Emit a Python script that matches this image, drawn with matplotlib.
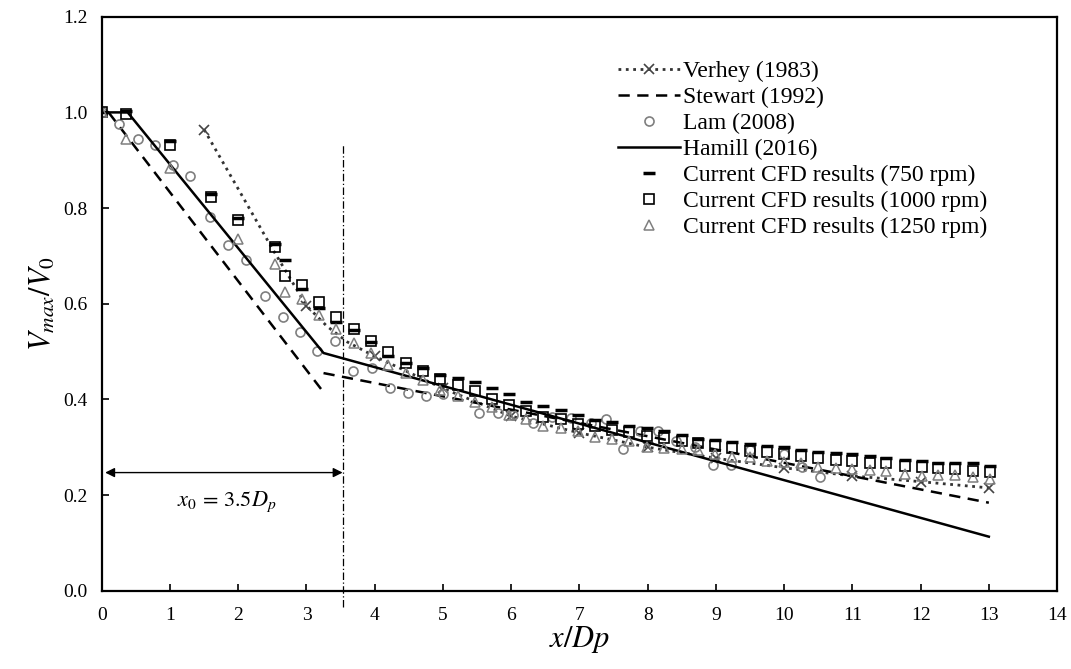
import matplotlib
matplotlib.use('Agg')
import matplotlib.pyplot as plt
import numpy as np

plt.rcParams['font.family'] = ['Liberation Serif', 'DejaVu Serif']
plt.rcParams['mathtext.fontset'] = 'stix'

# Verhey (1983) curve
verhey_x = [1.5, 2.0, 2.5, 3.0, 3.3, 3.6, 4.0, 5.0, 6.0, 7.0, 8.0, 9.0, 10.0, 11.0, 12.0, 13.0]
verhey_y = [0.964, 0.84, 0.715, 0.596, 0.553, 0.52, 0.49, 0.423, 0.365, 0.33, 0.30, 0.277, 0.257, 0.24, 0.228, 0.215]
verhey_marks = [0, 3, 6, 7, 8, 9, 10, 11, 12, 13, 14, 15]

# Stewart (1992): two segments
stewart_x1 = [0.1, 3.25]
stewart_y1 = [1.0, 0.415]
stewart_x2 = [3.25, 13.0]
stewart_y2 = [0.455, 0.184]

# Hamill (2016)
hamill_x = [0.0, 0.38, 3.25, 13.0]
hamill_y = [1.0, 1.0, 0.497, 0.113]

# Lam (2008) measurements
lam_x = [0.0, 0.25, 0.53, 0.78, 1.04, 1.3, 1.58, 1.85, 2.11, 2.39, 2.65, 2.9, 3.16, 3.42,
         3.68, 3.96, 4.22, 4.49, 4.75, 5.0, 5.53, 5.8, 6.03, 6.32, 6.6, 6.88, 7.17, 7.39,
         7.64, 7.89, 8.15, 8.42, 8.7, 8.96, 9.22, 9.5, 10.0, 10.26, 10.53]
lam_y = [1.0, 0.976, 0.945, 0.932, 0.889, 0.868, 0.782, 0.723, 0.692, 0.617, 0.573, 0.54, 0.502, 0.523,
         0.46, 0.465, 0.423, 0.414, 0.408, 0.412, 0.372, 0.372, 0.367, 0.351, 0.364, 0.362, 0.351, 0.36,
         0.297, 0.334, 0.334, 0.313, 0.30, 0.262, 0.262, 0.295, 0.285, 0.259, 0.238]

# current CFD results
cfd_x = [0.0, 0.35, 1.0, 1.6, 2.0, 2.54, 2.68, 2.93, 3.18, 3.44, 3.69, 3.95, 4.2, 4.46, 4.71,
         4.96, 5.22, 5.47, 5.72, 5.97, 6.22, 6.47, 6.73, 6.98, 7.23, 7.48, 7.73, 7.99, 8.24, 8.5,
         8.74, 8.99, 9.24, 9.5, 9.75, 10.0, 10.25, 10.5, 10.76, 11.0, 11.26, 11.5, 11.77, 12.02,
         12.26, 12.51, 12.77, 13.02]
cfd750_y = [1.0, 1.003, 0.94, 0.83, 0.78, 0.725, 0.692, 0.63, 0.592, 0.562, 0.545, 0.52, 0.49, 0.477, 0.465,
            0.45, 0.445, 0.437, 0.424, 0.412, 0.395, 0.387, 0.378, 0.368, 0.357, 0.353, 0.345, 0.34, 0.334, 0.326,
            0.317, 0.315, 0.31, 0.307, 0.303, 0.301, 0.295, 0.291, 0.288, 0.286, 0.282, 0.278, 0.274, 0.272,
            0.268, 0.268, 0.266, 0.261]
cfd1000_y = [1.0, 0.997, 0.932, 0.824, 0.774, 0.719, 0.657, 0.64, 0.604, 0.573, 0.548, 0.523, 0.499, 0.477, 0.46,
             0.443, 0.431, 0.418, 0.401, 0.389, 0.376, 0.364, 0.359, 0.349, 0.345, 0.337, 0.331, 0.324, 0.32, 0.312,
             0.309, 0.303, 0.299, 0.293, 0.289, 0.286, 0.282, 0.278, 0.274, 0.272, 0.268, 0.266, 0.261, 0.258,
             0.257, 0.255, 0.251, 0.249]
cfd1250_x = [0.0, 0.35, 1.0, 2.0, 2.54, 2.68, 2.93, 3.18, 3.44, 3.69, 3.95, 4.2, 4.46, 4.71,
             4.96, 5.22, 5.47, 5.72, 5.97, 6.22, 6.47, 6.73, 6.98, 7.23, 7.48, 7.73, 7.99, 8.24, 8.5,
             8.74, 8.99, 9.24, 9.5, 9.75, 10.0, 10.25, 10.5, 10.76, 11.0, 11.26, 11.5, 11.77, 12.02,
             12.26, 12.51, 12.77, 13.02]
cfd1250_y = [1.0, 0.945, 0.884, 0.736, 0.683, 0.624, 0.61, 0.577, 0.548, 0.518, 0.498, 0.472, 0.456, 0.44,
             0.42, 0.408, 0.395, 0.384, 0.368, 0.358, 0.345, 0.341, 0.333, 0.322, 0.318, 0.314, 0.301, 0.299, 0.297,
             0.295, 0.286, 0.28, 0.28, 0.272, 0.27, 0.267, 0.259, 0.257, 0.255, 0.253, 0.251, 0.245, 0.24,
             0.242, 0.242, 0.238, 0.234]

x0_line = 3.53

fig = plt.figure(figsize=(10.71, 6.69), dpi=100)
ax = fig.add_axes([0.095, 0.117, 0.892, 0.858])

gray = '#7f7f7f'

ax.plot(verhey_x, verhey_y, color='#333333', linestyle=':', lw=2, marker='x', ms=7, mew=1.2,
        mec='#444444', markevery=verhey_marks, label='Verhey (1983)')
ax.plot(stewart_x1, stewart_y1, color='black', lw=1.8, dashes=(4.5, 3), label='Stewart (1992)')
ax.plot(stewart_x2, stewart_y2, color='black', lw=1.8, dashes=(4.5, 3))
ax.plot(lam_x, lam_y, linestyle='none', marker='o', ms=6.5, mfc='none', mec=gray, mew=1.2, label='Lam (2008)')
ax.plot(hamill_x, hamill_y, color='black', lw=1.8, label='Hamill (2016)')
ax.plot(cfd_x, cfd750_y, linestyle='none', marker='_', ms=8, mew=2.5, color='black',
        label='Current CFD results (750 rpm)')
ax.plot(cfd_x, cfd1000_y, linestyle='none', marker='s', ms=6.5, mfc='none', mec='black', mew=1.2,
        label='Current CFD results (1000 rpm)')
ax.plot(cfd1250_x, cfd1250_y, linestyle='none', marker='^', ms=6.5, mfc='none', mec=gray, mew=1.1,
        label='Current CFD results (1250 rpm)')

# x0 marker line and annotation
ax.plot([x0_line, x0_line], [-0.035, 0.932], color='black', lw=0.9, linestyle=(0, (6, 2, 1, 2)), clip_on=False)
ax.annotate('', xy=(0.05, 0.247), xytext=(x0_line, 0.247),
            arrowprops=dict(arrowstyle='<|-|>', color='black', lw=1, mutation_scale=14, shrinkA=0, shrinkB=0))
ax.text(1.83, 0.186, r'$x_0\,=\,3.5D_p$', fontsize=16, ha='center', va='center')

ax.set_xlim(0, 14)
ax.set_ylim(0, 1.2)
ax.set_xticks(range(0, 15))
ax.set_yticks(np.arange(0, 1.21, 0.2))
ax.set_yticklabels(['%.1f' % v for v in np.arange(0, 1.21, 0.2)])
ax.tick_params(direction='in', length=5, width=1.2, labelsize=14, top=False, right=False)
ax.tick_params(axis='x', pad=12)
ax.tick_params(axis='y', pad=10)
for s in ax.spines.values():
    s.set_linewidth(1.6)

ax.set_xlabel(r'$\mathit{x/Dp}$', fontsize=22, labelpad=0)
ax.set_ylabel(r'$\mathit{V_{max}/V_0}$', fontsize=22, labelpad=4)

ax.legend(loc='upper left', bbox_to_anchor=(0.531, 0.94), frameon=False, fontsize=17,
          handlelength=2.6, handletextpad=0.15, labelspacing=0.19, borderaxespad=0)

fig.savefig('out.png', dpi=100)
